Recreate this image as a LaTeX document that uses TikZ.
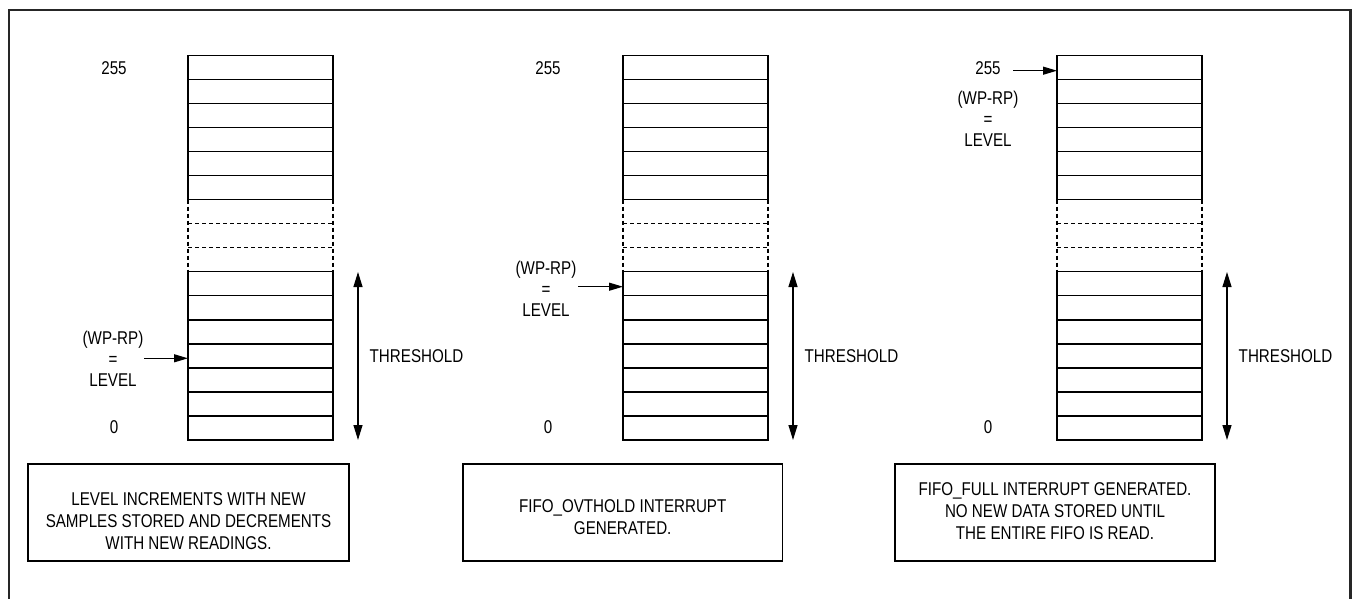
\documentclass[tikz,border=0pt]{standalone}
\usepackage{fontspec}
\setmainfont{Liberation Sans}[FakeStretch=0.82]
\usetikzlibrary{arrows.meta,positioning}
\tikzset{
    % FIFO row lines
    fifoline/.style={line width=1.3pt},
    % rows that are not shown
    ghostline/.style={line width=1.1pt,dash pattern=on 4pt off 3pt},
    % plain text labels
    lbl/.style={inner sep=0pt,align=center,font=\fontsize{18.5}{21}\selectfont},
    % note frame under each FIFO
    notebox/.style={line width=1.3pt},
    notetext/.style={lbl,font=\fontsize{18.5}{22}\selectfont},
    % pointer arrow
    ptr/.style={-{Triangle[length=14pt,width=8pt]},line width=1.2pt},
    % threshold span
    spanarrow/.style={{Triangle[length=15pt,width=9pt]}-{Triangle[length=15pt,width=9pt]},line width=1.2pt}
}

\begin{document}
\begin{tikzpicture}[x=1pt,y=-1pt]
    \useasboundingbox (0,0) rectangle (1353,599);

    % Outer frame (open at the bottom)
    \draw[line width=2.2pt,black!85] (9,610) -- (9,10) -- (1350.5,10) -- (1350.5,610);

    % Three FIFOs
    \foreach \c/\dx/\lx in {a/0/114,b/435/113,c/869/119}{
        \begin{scope}[xshift=\dx pt]
            % top rows
            \draw[fifoline] (188,55.3) rectangle (333,199.6);
            \foreach \k in {1,...,5}
                \draw[fifoline] (188,{55.3+24.05*\k}) -- (333,{55.3+24.05*\k});
            % gap
            \draw[ghostline] (188,199.6) -- (188,271.8) (333,199.6) -- (333,271.8);
            \draw[ghostline] (188,223.65) -- (333,223.65) (188,247.7) -- (333,247.7);
            % bottom rows
            \draw[fifoline] (188,271.8) rectangle (333,440);
            \foreach \k in {1,...,6}
                \draw[fifoline] (188,{271.8+24.03*\k}) -- (333,{271.8+24.03*\k});

            % addresses
            \node[lbl] (top\c) at (\lx,68) {255};
            \node[lbl] (bot\c) at (\lx,427) {0};

            % threshold
            \coordinate (thtop\c) at (358,272);
            \coordinate (thbot\c) at (358,440);
            \draw[spanarrow] (thtop\c) -- (thbot\c);
            \node[lbl] (thr\c) at (416.5,356.5) {THRESHOLD};
        \end{scope}
    }

    % Level pointers
    \node[lbl] (lvla) at (113,359) {(WP-RP)\\=\\LEVEL};
    \coordinate (ptra) at (144,358.3);
    \coordinate (rowa) at (188,358.3);
    \draw[ptr] (ptra) -- (rowa);

    \node[lbl] (lvlb) at (546,289) {(WP-RP)\\=\\LEVEL};
    \coordinate (ptrb) at (578,286.7);
    \coordinate (rowb) at (623,286.7);
    \draw[ptr] (ptrb) -- (rowb);

    \node[lbl] (lvlc) at (988,119) {(WP-RP)\\=\\LEVEL};
    \coordinate (ptrc) at (1013,70.7);
    \coordinate (rowc) at (1057,70.7);
    \draw[ptr] (ptrc) -- (rowc);

    % Notes
    \draw[notebox] (28,464) rectangle (349,561);
    \node[notetext] (notea) at (188.5,521) {LEVEL INCREMENTS WITH NEW\\SAMPLES STORED AND DECREMENTS\\WITH NEW READINGS.};
    \draw[notebox] (463,464) rectangle (782.5,561);
    \node[notetext] (noteb) at (622.7,517) {FIFO\_OVTHOLD INTERRUPT\\GENERATED.};
    \draw[notebox] (895,464) rectangle (1215,561);
    \node[notetext] (notec) at (1055,511) {FIFO\_FULL INTERRUPT GENERATED.\\NO NEW DATA STORED UNTIL\\THE ENTIRE FIFO IS READ.};
\end{tikzpicture}
\end{document}
